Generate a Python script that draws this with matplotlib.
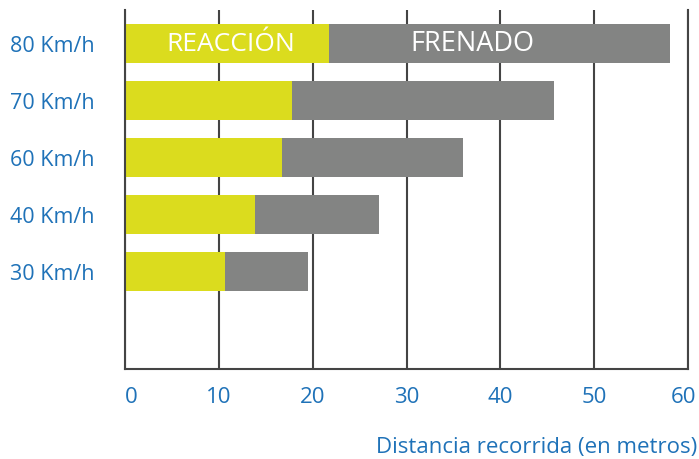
import matplotlib
matplotlib.use("Agg")
import matplotlib.pyplot as plt
import matplotlib.transforms as mtransforms
import numpy as np

plt.rcParams['font.family'] = ['Open Sans', 'DejaVu Sans']

speeds = ["30 Km/h", "40 Km/h", "60 Km/h", "70 Km/h", "80 Km/h"]
reaccion = [10.7, 13.9, 16.7, 17.8, 21.7]
frenado = [8.8, 13.2, 19.3, 27.9, 36.4]
xticks = [0, 10, 20, 30, 40, 50, 60]

YELLOW = '#dbdc1e'
GRAY = '#838483'
BLUE = '#1f72b8'
LINE = '#444444'

fig = plt.figure(figsize=(6.99, 4.6), dpi=100)
ax = fig.add_axes([125/699, 1-370/460, (688-125)/699, (370-10.5)/460])

y = np.arange(len(speeds))
h = 0.675
ax.barh(y, reaccion, height=h, color=YELLOW, zorder=2)
ax.barh(y, frenado, left=reaccion, height=h, color=GRAY, zorder=2)

ax.set_xlim(0, 60)
ax.set_ylim(-1.71, 4.595)
ax.set_xticks(xticks)
ax.set_xticklabels([str(t) for t in xticks])
ax.set_yticks(y)
ax.set_yticklabels(speeds, ha='left', va='center_baseline')

ax.tick_params(axis='y', length=0, pad=82.8, labelsize=15.5, labelcolor=BLUE)
ax.tick_params(axis='x', length=0, pad=12.5, labelsize=16, labelcolor=BLUE)
xl = ax.get_xticklabels()
xl[0].set_ha('left')
xl[-1].set_transform(xl[-1].get_transform() +
                     mtransforms.ScaledTranslation(-5/100, 0, fig.dpi_scale_trans))

ax.set_axisbelow(True)
ax.grid(axis='x', color=LINE, linewidth=1.5, zorder=0)
ax.grid(axis='y', visible=False)
for s in ['left', 'bottom', 'right']:
    ax.spines[s].set_color(LINE)
    ax.spines[s].set_linewidth(1.5)
ax.spines['top'].set_visible(False)

ax.text(11.3, y[-1], "REACCIÓN", color='white', fontsize=19, ha='center', va='center', zorder=3)
ax.text(37.0, y[-1], "FRENADO", color='white', fontsize=19.5, ha='center', va='center', zorder=3)

fig.text(697/699, 1-448/460, "Distancia recorrida (en metros)", color=BLUE, fontsize=16,
         ha='right', va='center')

fig.savefig("out.png", dpi=100)
